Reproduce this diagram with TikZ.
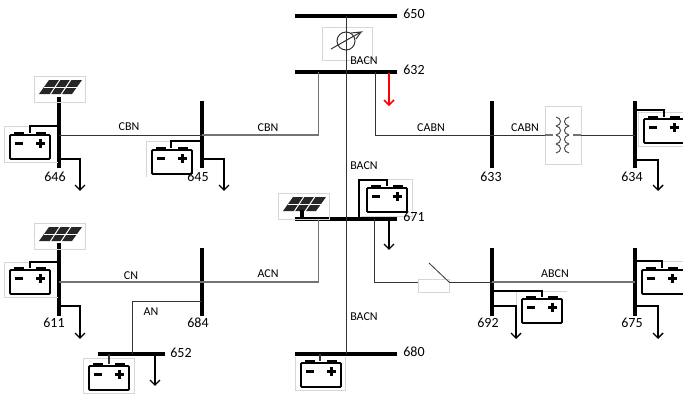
\documentclass[tikz,border=0pt]{standalone}
\usepackage{fontspec}
\setmainfont{Carlito}
\definecolor{faint}{gray}{0.84}
\definecolor{wire}{gray}{0.2}
\definecolor{wirelight}{gray}{0.45}
\tikzset{
  hbus/.style={fill=black,inner sep=0pt,minimum height=4pt},
  vbus/.style={fill=black,inner sep=0pt,minimum width=4pt},
  line label/.style={font=\fontsize{12}{13}\selectfont,inner sep=0pt,text=black},
  bus label/.style={font=\fontsize{14}{15}\selectfont,inner sep=0pt,text=black},
  feeder/.style={draw=wire,line width=1pt},
  feeder light/.style={draw=wirelight,line width=1.2pt},
  tie/.style={draw=black,line width=1.3pt},
  load/.style={draw=black,line width=1.4pt},
  frame/.style={draw=faint,line width=0.6pt},
  battbody/.style={draw=black,line width=1.8pt,rounded corners=1pt},
}
\newcommand{\loadarrow}[2]{%
  \draw[load] #1 -- #2;
  \draw[load] #2 ++(-5,-5) -- #2 -- ++(5,-5);
}
\newcommand{\batt}[3][40]{%
  \begin{scope}[shift={(#2,#3)}]
    \fill[black] (4,0) rectangle (14,-2.6);
    \fill[black] (26,0) rectangle (36,-2.6);
    \draw[battbody] (0,0) rectangle (#1,24);
    \fill[black] (5,7.4) rectangle (13,10);
    \fill[black] (26,7.4) rectangle (35,10);
    \fill[black] (29.2,4.2) rectangle (31.8,13.2);
  \end{scope}
}
\newcommand{\panel}[2]{%
  \begin{scope}[shift={(#1,#2)}]
    \draw[frame] (0,0) rectangle (51,26);
    \fill[black!85] (5,18) -- (15,4) -- (48,4) -- (38,18) -- cycle;
    \draw[white,line width=1pt] (9.8,11) -- (43.2,11);
    \draw[white,line width=1pt] (16.2,18.5) -- (26,3.5);
    \draw[white,line width=1pt] (27,18.5) -- (37,3.5);
  \end{scope}
}
\begin{document}
\begin{tikzpicture}[x=1pt,y=-1pt]
\useasboundingbox (0,0) rectangle (683,394);
\clip (0,0) rectangle (683,394);
% buses
\node[hbus,minimum width=102pt] (b650) at (346,16) {};
\node[hbus,minimum width=102pt] (b632) at (346,72) {};
\node[hbus,minimum width=102pt] (b671) at (346,219) {};
\node[hbus,minimum width=102pt] (b680) at (346,354) {};
\node[hbus,minimum width=67pt] (b652) at (131.5,354) {};
\node[vbus,minimum height=71pt] (b646) at (58.5,132.5) {};
\node[vbus,minimum height=67pt] (b645) at (202,134.5) {};
\node[vbus,minimum height=67pt] (b633) at (492,134.5) {};
\node[vbus,minimum height=67pt] (b634) at (634.5,134.5) {};
\node[vbus,minimum height=73pt] (b611) at (58.5,279.5) {};
\node[vbus,minimum height=68pt] (b684) at (202,282) {};
\node[vbus,minimum height=68pt] (b692) at (492,282) {};
\node[vbus,minimum height=68pt] (b675) at (634.5,282) {};
% devices
\node[draw=faint,line width=0.6pt,fill=white,minimum width=50pt,minimum height=33pt,inner sep=0pt] (reg) at (347,43.5) {};
\node[draw=faint,line width=0.6pt,minimum width=36pt,minimum height=58pt,inner sep=0pt] (xfmr) at (563,135) {};
\node[draw=faint,line width=0.7pt,minimum width=31pt,minimum height=13pt,inner sep=0pt] (sw) at (433.5,286) {};
\coordinate (swL) at (418,282);
\coordinate (swR) at (449,282);
\coordinate (swT) at (429,263);
% main vertical
\draw[feeder] (b650.center) -- (b680.center);
% regulator symbol
\draw[draw=black!80,line width=1pt] (346,41) circle (9);
\draw[draw=black!80,line width=1pt] (331,49) -- (361,32) -- (351,33);
\draw[draw=black!80,line width=1pt] (361,32) -- (356,39);
% feeders
\draw[feeder light] (318.5,72) -- (318.5,135) -- (b645.center |- 0,135);
\draw[feeder] (b645.center |- 0,135) -- (b646.center |- 0,135);
\draw[feeder] (375,72) -- (375,135) -- (b633.center |- 0,135);
\draw[feeder] (b633.center |- 0,135) -- (xfmr.west);
\draw[feeder] (xfmr.east) -- (b634.center |- 0,135);
\draw[feeder light] (318.5,219) -- (318.5,282) -- (b684.center);
\draw[feeder light] (b684.center) -- (b611.center |- 0,282);
\draw[feeder] (b684.center |- 0,301) -- (132,301) -- (b652.center -| 132,0);
\draw[feeder] (374.5,219) -- (374.5,282) -- (swL);
\draw[feeder,line width=0.8pt] (swT) -- (swR);
\draw[feeder] (swR) -- (b692.center);
\draw[feeder light] (b692.center) -- (b675.center);
% transformer
\draw[wirelight,line width=1.2pt] (xfmr.west) -- ++(8,0);
\draw[wirelight,line width=1.2pt] (xfmr.east) -- ++(-8,0);
\foreach \yy in {117,126,135,144}{
  \draw[black!70,line width=1pt] (556,\yy) .. controls (562,\yy+1) and (562,\yy+8) .. (556,\yy+9);
  \draw[black!70,line width=1pt] (569,\yy) .. controls (563,\yy+1) and (563,\yy+8) .. (569,\yy+9);
}
% panels
\panel{34}{76}
\panel{34}{223}
\panel{278}{193}
\fill[black] (300,210) rectangle (304,219);
% battery frames
\draw[frame] (58,126) -- (4,126) -- (4,162) -- (58,162);
\draw[frame] (197,141) -- (146,141) -- (146,177);
\draw[frame] (638,146) -- (638,112) -- (683,112);
\draw[frame] (638,146) -- (683,146);
\draw[frame] (58,262) -- (4,262) -- (4,297) -- (58,297);
\draw[frame] (83,393) -- (83,358) -- (134,358) -- (134,393) -- cycle;
\draw[frame] (295,357) -- (295,390) -- (345,390) -- (345,357);
\draw[frame] (516,323) -- (516,291) -- (567,291);
\draw[frame] (661,261) -- (683,261);
\draw[frame] (370,179) -- (412,179) -- (412,216) -- (361,216);
% batteries
\batt{10}{135}
\batt{152}{150}
\batt[42]{644}{119}
\batt{10}{270}
\batt{89}{366}
\batt{301}{363}
\batt{367}{188}
\batt{522}{299}
\batt[42]{642}{270}
% battery wires
\draw[tie] (b646.center |- 0,126) -- (30,126) -- (30,133);
\draw[tie] (b645.center |- 0,141) -- (171,141) -- (171,148);
\draw[tie] (b634.center |- 0,110) -- (664,110) -- (664,117);
\draw[tie] (b611.center |- 0,262) -- (30,262) -- (30,268);
\draw[tie,draw=wire] (109,354) -- (109,364);
\draw[tie,draw=wire] (320,354) -- (320,361);
\draw[tie] (359,219) -- (359,180) -- (387,180) -- (387,186);
\draw[tie] (b692.center |- 0,291) -- (542,291) -- (542,297);
\draw[tie] (b675.center |- 0,261) -- (662,261) -- (662,268);
% loads
\coordinate (l646) at (80,190);
\coordinate (l645) at (224,190);
\coordinate (l634) at (658,190);
\coordinate (l611) at (80,338);
\coordinate (l692) at (516,338);
\coordinate (l675) at (658,338);
\coordinate (l652) at (155,385);
\coordinate (l671) at (389,249);
\coordinate (l632) at (389,105);
\loadarrow{(b646.center |- 0,159) -- (80,159)}{(l646)}
\loadarrow{(b645.center |- 0,159) -- (224,159)}{(l645)}
\loadarrow{(b634.center |- 0,160) -- (658,160)}{(l634)}
\loadarrow{(b611.center |- 0,306) -- (80,306)}{(l611)}
\loadarrow{(b692.center |- 0,306) -- (516,306)}{(l692)}
\loadarrow{(b675.center |- 0,306) -- (658,306)}{(l675)}
\loadarrow{(155,354)}{(l652)}
\loadarrow{(389,219)}{(l671)}
\draw[red,line width=1.5pt] (389,73) -- (l632);
\draw[red,line width=1.5pt] (384,100) -- (l632) -- (394,100);
% bus labels
\node[bus label] (t650) at (414,14) {650};
\node[bus label] (t632) at (414,70) {632};
\node[bus label] (t671) at (414,217) {671};
\node[bus label] (t680) at (414,352) {680};
\node[bus label] (t652) at (181,353) {652};
\node[bus label] (t646) at (55,177) {646};
\node[bus label] (t645) at (198,177) {645};
\node[bus label] (t633) at (491,177) {633};
\node[bus label] (t634) at (632,177) {634};
\node[bus label] (t611) at (54,323) {611};
\node[bus label] (t684) at (198,323) {684};
\node[bus label] (t692) at (488,323) {692};
\node[bus label] (t675) at (632,323) {675};
% line labels
\node[line label] (c1) at (129,127) {CBN};
\node[line label] (c2) at (268,128) {CBN};
\node[line label] (c3) at (364,61) {BACN};
\node[line label] (c4) at (431,128) {CABN};
\node[line label] (c5) at (525,128) {CABN};
\node[line label] (c6) at (364,166) {BACN};
\node[line label] (c7) at (131,276) {CN};
\node[line label] (c8) at (268,274) {ACN};
\node[line label] (c9) at (151,312) {AN};
\node[line label] (c10) at (364,317) {BACN};
\node[line label] (c11) at (555,274) {ABCN};
\end{tikzpicture}
\end{document}
